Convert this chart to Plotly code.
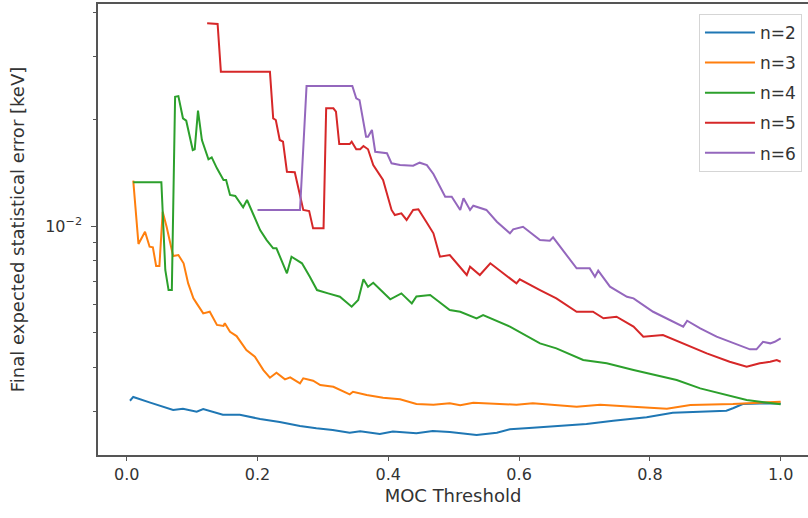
import plotly.graph_objects as go

# ---------------- data ----------------
x_n2 = [0.005, 0.01, 0.036, 0.071, 0.086, 0.107, 0.117, 0.147, 0.173, 0.204, 0.234, 0.265, 0.290,
        0.315, 0.341, 0.357, 0.387, 0.407, 0.443, 0.468, 0.494, 0.510, 0.535, 0.566, 0.586, 0.621,
        0.673, 0.703, 0.744, 0.795, 0.835, 0.877, 0.917, 0.927, 0.942, 0.968, 1.0]
y_n2 = [0.00322, 0.00330, 0.00318, 0.003032, 0.003058, 0.002998, 0.003051, 0.002940, 0.002940,
        0.002860, 0.002805, 0.002733, 0.002692, 0.002663, 0.002616, 0.002640, 0.002594, 0.002637,
        0.002606, 0.002645, 0.002629, 0.002606, 0.002578, 0.002616, 0.002675, 0.002703, 0.002745,
        0.002769, 0.002828, 0.002891, 0.002979, 0.002998, 0.003018, 0.003066, 0.003153, 0.003162,
        0.003165]

x_n3 = [0.01, 0.018, 0.028, 0.035, 0.040, 0.045, 0.050, 0.055, 0.061, 0.071, 0.079, 0.087, 0.094,
        0.102, 0.107, 0.117, 0.127, 0.138, 0.148, 0.150, 0.158, 0.168, 0.183, 0.196, 0.209, 0.219,
        0.229, 0.242, 0.250, 0.265, 0.270, 0.285, 0.296, 0.316, 0.341, 0.346, 0.367, 0.392, 0.418,
        0.443, 0.469, 0.494, 0.510, 0.530, 0.596, 0.621, 0.688, 0.724, 0.774, 0.826, 0.862, 0.927,
        1.0]
y_n3 = [0.01342, 0.00890, 0.00964, 0.008744, 0.008710, 0.007716, 0.007716, 0.01097, 0.009955,
        0.008231, 0.008285, 0.007851, 0.006894, 0.006255, 0.006055, 0.005675, 0.005734, 0.005264,
        0.005230, 0.005322, 0.005037, 0.004898, 0.004473, 0.004282, 0.003929, 0.003739, 0.003862,
        0.003700, 0.003748, 0.003605, 0.003724, 0.003667, 0.003565, 0.003526, 0.003357, 0.003414,
        0.003342, 0.003283, 0.003249, 0.003152, 0.003138, 0.003167, 0.003126, 0.003179, 0.003138,
        0.003167, 0.003097, 0.003138, 0.003097, 0.003058, 0.003132, 0.003152, 0.003200]

x_n4 = [0.01, 0.053, 0.059, 0.064, 0.069, 0.074, 0.079, 0.086, 0.091, 0.101, 0.104, 0.109, 0.115,
        0.125, 0.130, 0.138, 0.148, 0.152, 0.158, 0.166, 0.178, 0.184, 0.194, 0.204, 0.214, 0.224,
        0.229, 0.245, 0.252, 0.268, 0.280, 0.291, 0.308, 0.326, 0.344, 0.354, 0.362, 0.369, 0.377,
        0.403, 0.420, 0.436, 0.443, 0.464, 0.474, 0.494, 0.510, 0.535, 0.545, 0.586, 0.632, 0.657,
        0.698, 0.734, 0.775, 0.810, 0.841, 0.877, 0.907, 0.948, 1.0]
y_n4 = [0.01328, 0.01328, 0.00752, 0.00660, 0.00660, 0.02313, 0.02323, 0.02011, 0.01980, 0.01637,
        0.01645, 0.02113, 0.01747, 0.01541, 0.01561, 0.01454, 0.01348, 0.01348, 0.01223, 0.01215,
        0.01129, 0.01184, 0.01074, 0.00974, 0.00913, 0.008655, 0.008655, 0.007360, 0.008194,
        0.007851, 0.007200, 0.006600, 0.006461, 0.006321, 0.005925, 0.006188, 0.007078, 0.006746,
        0.006923, 0.006216, 0.006461, 0.006055, 0.006330, 0.006392, 0.006188, 0.005800, 0.005734,
        0.005496, 0.005615, 0.005206, 0.004672, 0.004521, 0.004193, 0.004104, 0.003929, 0.003804,
        0.003683, 0.003489, 0.003378, 0.003235, 0.003146]

x_n5 = [0.123, 0.139, 0.144, 0.219, 0.224, 0.228, 0.234, 0.239, 0.245, 0.257, 0.270, 0.279, 0.285,
        0.301, 0.305, 0.316, 0.320, 0.325, 0.341, 0.344, 0.351, 0.357, 0.362, 0.369, 0.377, 0.392,
        0.405, 0.410, 0.420, 0.428, 0.438, 0.446, 0.459, 0.469, 0.479, 0.494, 0.520, 0.525, 0.540,
        0.556, 0.596, 0.601, 0.632, 0.657, 0.688, 0.713, 0.729, 0.749, 0.775, 0.790, 0.820, 0.851,
        0.887, 0.922, 0.948, 0.958, 0.968, 0.984, 0.994, 1.0]
y_n5 = [0.03724, 0.03707, 0.02720, 0.02720, 0.02011, 0.01989, 0.01747, 0.01728, 0.01422, 0.01417,
        0.01110, 0.01102, 0.00985, 0.00985, 0.02146, 0.02146, 0.02099, 0.01702, 0.01702, 0.01728,
        0.01645, 0.01645, 0.01680, 0.01645, 0.01485, 0.01348, 0.01110, 0.01074, 0.01086, 0.01040,
        0.01110, 0.01115, 0.01022, 0.009537, 0.008194, 0.008285, 0.007278, 0.007683, 0.007278,
        0.007851, 0.006894, 0.007078, 0.006600, 0.006255, 0.005734, 0.005734, 0.005496, 0.005553,
        0.005206, 0.004879, 0.004932, 0.004672, 0.004378, 0.004147, 0.004015, 0.004059, 0.004104,
        0.004147, 0.004193, 0.004147]

x_n6 = [0.2, 0.265, 0.275, 0.345, 0.351, 0.356, 0.366, 0.369, 0.375, 0.380, 0.398, 0.405, 0.418,
        0.438, 0.448, 0.459, 0.469, 0.479, 0.487, 0.497, 0.510, 0.515, 0.525, 0.530, 0.550, 0.566,
        0.586, 0.591, 0.606, 0.632, 0.647, 0.652, 0.668, 0.688, 0.708, 0.716, 0.721, 0.739, 0.765,
        0.775, 0.805, 0.836, 0.851, 0.857, 0.877, 0.902, 0.928, 0.953, 0.963, 0.973, 0.984, 0.991,
        1.0]
y_n6 = [0.01110, 0.01110, 0.02480, 0.02480, 0.02289, 0.02264, 0.01784, 0.01784, 0.01864, 0.01619,
        0.01603, 0.01502, 0.01485, 0.01479, 0.01508, 0.01485, 0.01401, 0.01290, 0.01209, 0.01209,
        0.01110, 0.01197, 0.01110, 0.01141, 0.01110, 0.01028, 0.009537, 0.009788, 0.009955,
        0.009130, 0.009090, 0.009290, 0.008467, 0.007599, 0.007599, 0.007200, 0.007484, 0.006746,
        0.006321, 0.006255, 0.005734, 0.005375, 0.005206, 0.005410, 0.005151, 0.004879, 0.004672,
        0.004494, 0.004494, 0.004721, 0.004672, 0.004721, 0.004827]

series_names = ["n=2", "n=3", "n=4", "n=5", "n=6"]
series_x = [x_n2, x_n3, x_n4, x_n5, x_n6]
series_y = [y_n2, y_n3, y_n4, y_n5, y_n6]
colors = ["#1f77b4", "#ff7f0e", "#2ca02c", "#d62728", "#9467bd"]

x_ticks = [0.0, 0.2, 0.4, 0.6, 0.8, 1.0]
x_ticklabels = ["0.0", "0.2", "0.4", "0.6", "0.8", "1.0"]
y_major = [0.01]
y_major_labels = ["10<sup>−2</sup>"]
y_minor = [0.003, 0.004, 0.005, 0.006, 0.007, 0.008, 0.009, 0.02, 0.03, 0.04]

# ---------------- figure ----------------
fig = go.Figure()
for name, xs, ys, c in zip(series_names, series_x, series_y, colors):
    fig.add_trace(go.Scatter(x=xs, y=ys, mode="lines", name=name, legendgroup=name,
                             line=dict(color=c, width=2)))

font_family = "DejaVu Sans"
fig.update_layout(
    width=808, height=518,
    margin=dict(l=98, r=0, t=4, b=63),
    paper_bgcolor="white", plot_bgcolor="white",
    font=dict(family=font_family, size=16, color="#333333"),
    showlegend=True,
    legend=dict(x=0.9915, y=0.978, xanchor="right", yanchor="top",
                bgcolor="white", bordercolor="#d5d5d5", borderwidth=1,
                font=dict(size=17, color="#333333"), tracegroupgap=5,
                traceorder="grouped", itemwidth=50),
    xaxis=dict(range=[-0.0439, 1.0418], showgrid=False, zeroline=False,
               showline=True, linecolor="#555555", linewidth=1.5, mirror=True,
               ticks="outside", ticklen=4, tickwidth=1, tickcolor="#555555",
               tickvals=x_ticks, ticktext=x_ticklabels,
               title=dict(text="MOC Threshold", font=dict(size=18, color="#333333"), standoff=6)),
    yaxis=dict(type="log", range=[-2.645, -1.3746], showgrid=False, zeroline=False,
               showline=True, linecolor="#555555", linewidth=1.5, mirror=False,
               ticks="outside", ticklen=5, tickwidth=1, tickcolor="#555555",
               tickvals=y_major, ticktext=y_major_labels, ticklabelstandoff=6,
               minor=dict(tickmode="array", tickvals=y_minor, ticks="outside", ticklen=3,
                          tickwidth=1, tickcolor="#555555", showgrid=False),
               title=dict(text="Final expected statistical error [keV]",
                          font=dict(size=18, color="#333333"), standoff=16)),
)

fig.write_html("out.html")
